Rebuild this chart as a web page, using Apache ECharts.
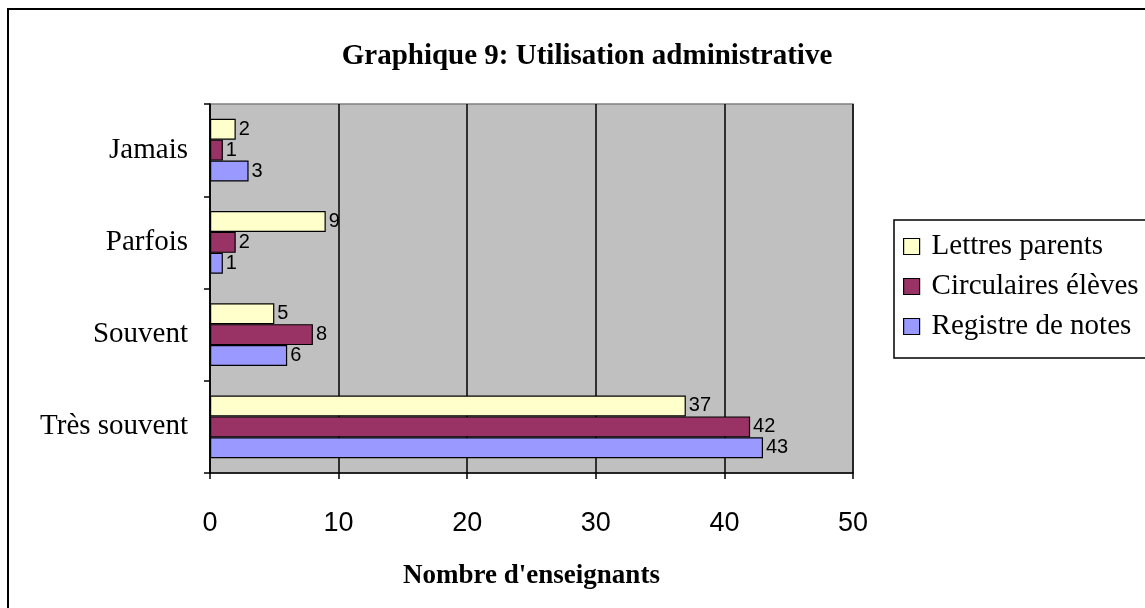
<!DOCTYPE html>
<html style="height: 100%">
<head>
    <meta charset="UTF-8">
    <title>Graphique 9: Utilisation administrative</title>
    <script src="https://cdn.jsdelivr.net/npm/echarts@6/dist/echarts.min.js"></script>
    <style>
        #main { width: 1145px; height: 608px; }
    </style>
</head>
<body style="margin: 0; background: #fff">
    <div id="main"></div>
    <script type="text/javascript">
        // categories from bottom to top (Excel order)
        var categories = ['Très souvent', 'Souvent', 'Parfois', 'Jamais'];
        var registreNotes = [43, 6, 1, 3];
        var circulairesEleves = [42, 8, 2, 1];
        var lettresParents = [37, 5, 9, 2];
        var xTicks = [0, 10, 20, 30, 40, 50];

        var chartDom = document.getElementById('main');
        var myChart = echarts.init(chartDom);

        var serif = 'Liberation Serif, Times New Roman, serif';
        var sans = 'Liberation Sans, Arial, sans-serif';

        var barLabel = {
            show: true,
            position: 'right',
            distance: 3,
            color: '#000',
            fontFamily: sans,
            fontSize: 20
        };

        function makeSeries(name, data, color) {
            return {
                name: name,
                type: 'bar',
                data: data,
                barGap: '0%',
                barCategoryGap: '32%',
                itemStyle: { color: color, borderColor: '#000', borderWidth: 1.2 },
                label: barLabel
            };
        }

        var option = {
            animation: false,
            title: {
                text: 'Graphique 9: Utilisation administrative',
                left: 582,
                top: 37,
                textAlign: 'center',
                textStyle: {
                    fontFamily: serif,
                    fontWeight: 'bold',
                    fontSize: 29,
                    color: '#000'
                }
            },
            legend: {
                orient: 'vertical',
                left: 898,
                top: 227,
                itemWidth: 16,
                itemHeight: 16,
                itemGap: 11,
                icon: 'rect',
                data: ['Lettres parents', 'Circulaires élèves', 'Registre de notes'],
                itemStyle: { borderColor: '#000', borderWidth: 1.2 },
                textStyle: {
                    fontFamily: serif,
                    fontSize: 29,
                    lineHeight: 28,
                    color: '#000',
                    padding: [0, 0, 0, 7]
                }
            },
            grid: {
                left: 210,
                right: 292,
                top: 104,
                bottom: 135,
                show: true,
                backgroundColor: '#C0C0C0',
                borderColor: '#808080',
                borderWidth: 1.5
            },
            xAxis: {
                type: 'value',
                min: xTicks[0],
                max: xTicks[xTicks.length - 1],
                interval: 10,
                name: "Nombre d'enseignants",
                nameLocation: 'middle',
                nameGap: 90,
                nameTextStyle: {
                    fontFamily: serif,
                    fontWeight: 'bold',
                    fontSize: 27,
                    color: '#000'
                },
                axisLine: { show: true, lineStyle: { color: '#000', width: 1.5 } },
                axisTick: { show: true, length: 6, lineStyle: { color: '#000', width: 1.5 } },
                axisLabel: {
                    margin: 37,
                    color: '#000',
                    fontFamily: sans,
                    fontSize: 27
                },
                splitLine: { show: true, lineStyle: { color: '#000', width: 1.5 } }
            },
            yAxis: {
                type: 'category',
                data: categories,
                axisLine: { show: true, lineStyle: { color: '#000', width: 1.5 } },
                axisTick: { show: true, length: 6, lineStyle: { color: '#000', width: 1.5 } },
                axisLabel: {
                    margin: 22,
                    color: '#000',
                    fontFamily: serif,
                    fontSize: 29
                }
            },
            series: [
                makeSeries('Lettres parents', lettresParents, '#FFFFCC'),
                makeSeries('Circulaires élèves', circulairesEleves, '#993366'),
                makeSeries('Registre de notes', registreNotes, '#9999FF')
            ],
            graphic: [
                {
                    type: 'rect',
                    shape: { x: 8, y: 9, width: 1300, height: 800 },
                    style: { fill: null, stroke: '#000', lineWidth: 2 },
                    silent: true
                },
                {
                    type: 'rect',
                    shape: { x: 894, y: 220, width: 400, height: 138 },
                    style: { fill: null, stroke: '#000', lineWidth: 1.5 },
                    silent: true
                }
            ]
        };

        myChart.setOption(option);
    </script>
</body>
</html>
